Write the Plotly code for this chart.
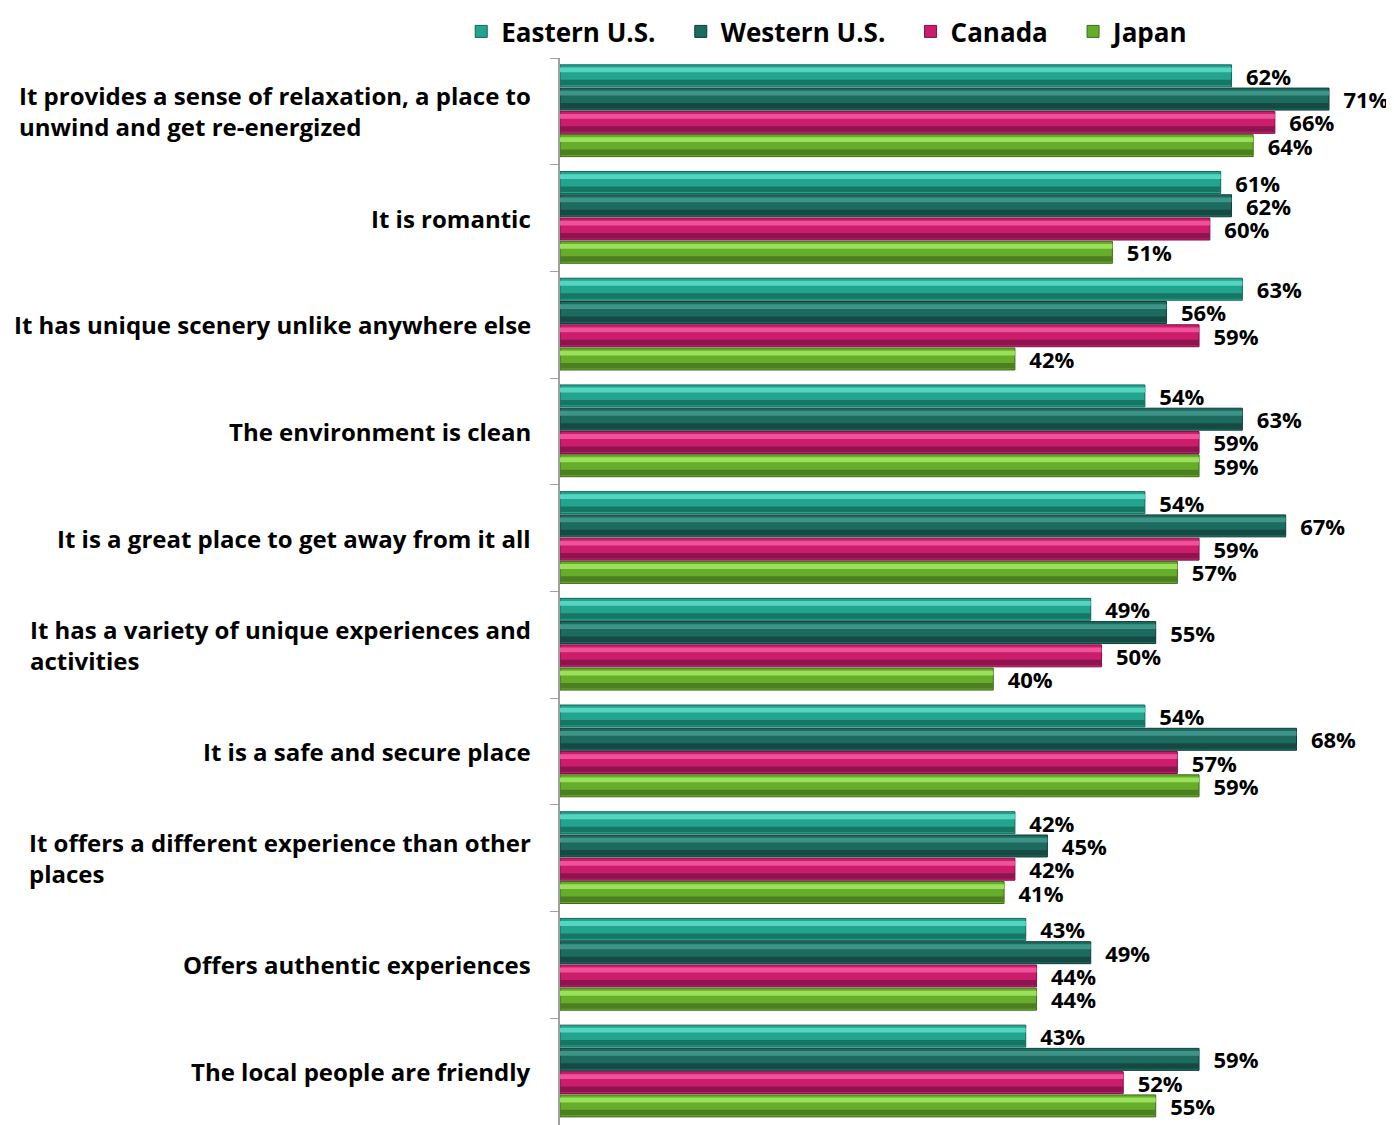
import plotly.graph_objects as go

# Data
categories = [
    "It provides a sense of relaxation, a place to<br>unwind and get re-energized",
    "It is romantic",
    "It has unique scenery unlike anywhere else",
    "The environment is clean",
    "It is a great place to get away from it all",
    "It has a variety of unique experiences and<br>activities",
    "It is a safe and secure place",
    "It offers a different experience than other<br>places",
    "Offers authentic experiences",
    "The local people are friendly",
]
series_names = ["Eastern U.S.", "Western U.S.", "Canada", "Japan"]
eastern = [62, 61, 63, 54, 54, 49, 54, 42, 43, 43]
western = [71, 62, 56, 63, 67, 55, 68, 45, 49, 59]
canada = [66, 60, 59, 59, 59, 50, 57, 42, 44, 52]
japan = [64, 51, 42, 59, 57, 40, 59, 41, 44, 55]
series_values = [eastern, western, canada, japan]

# colours: (base, highlight, shadow, outline)
palette = [
    ("#22a48f", "#55d4c0", "#177563", "#12665a"),
    ("#1d6a5f", "#3f9488", "#144a43", "#0f3d37"),
    ("#cc1c6c", "#f0529a", "#8e1450", "#7a1044"),
    ("#67ad2c", "#9be05a", "#4b7f20", "#3e6a1a"),
]

FONT = "Open Sans"
slot = 0.218
bar_w = 0.206
start = -2 * slot
pad = "\u00a0" * 3

fig = go.Figure()
for i, (name, vals) in enumerate(zip(series_names, series_values)):
    base, hi, sh, ol = palette[i]
    off = start + i * slot
    fig.add_trace(go.Bar(
        y=categories, x=vals, orientation="h",
        name=name + (pad if i < 3 else ""),
        width=bar_w, offset=off,
        marker=dict(color=base, line=dict(color=ol, width=1)),
        text=["\u00a0\u00a0%d%%" % v for v in vals],
        textposition="outside", cliponaxis=False, constraintext="none",
        textfont=dict(size=22, color="black", family=FONT, weight="bold"),
        hoverinfo="skip",
    ))
    # bevel highlight band
    fig.add_trace(go.Bar(
        y=categories, x=vals, orientation="h", showlegend=False,
        width=bar_w * 0.22, offset=off + bar_w * 0.12,
        marker=dict(color=hi, line=dict(width=0)), hoverinfo="skip",
    ))
    # bevel shadow band
    fig.add_trace(go.Bar(
        y=categories, x=vals, orientation="h", showlegend=False,
        width=bar_w * 0.25, offset=off + bar_w * 0.68,
        marker=dict(color=sh, line=dict(width=0)), hoverinfo="skip",
    ))

for c in categories:
    fig.add_annotation(
        x=0, xref="paper", y=c, yref="y", xanchor="right", xshift=-27,
        text=c, align="left", showarrow=False,
        font=dict(size=24, color="black", family=FONT, weight="bold"),
    )

# page body adds an 8px margin, so the figure is 8px smaller than the window
fig.update_layout(
    width=1386, height=1117,
    barmode="overlay",
    plot_bgcolor="white", paper_bgcolor="white",
    margin=dict(l=552, r=0, t=50, b=0, autoexpand=False),
    font=dict(family=FONT, color="black"),
    legend=dict(
        orientation="h", x=0.327, y=1.0, xref="container", yref="container",
        xanchor="left", yanchor="top",
        font=dict(size=26, family=FONT, weight="bold"),
        itemwidth=30, traceorder="normal",
    ),
    xaxis=dict(range=[0, 77], showgrid=False, showticklabels=False,
               zeroline=False, showline=False, fixedrange=True,
               automargin=False),
    yaxis=dict(autorange="reversed", showticklabels=False, showgrid=False,
               ticks="outside", ticklen=8, tickson="boundaries",
               tickcolor="#a0a0a0", showline=True, linecolor="#a0a0a0",
               linewidth=2, automargin=False),
    showlegend=True,
)

fig.write_html("out.html")
